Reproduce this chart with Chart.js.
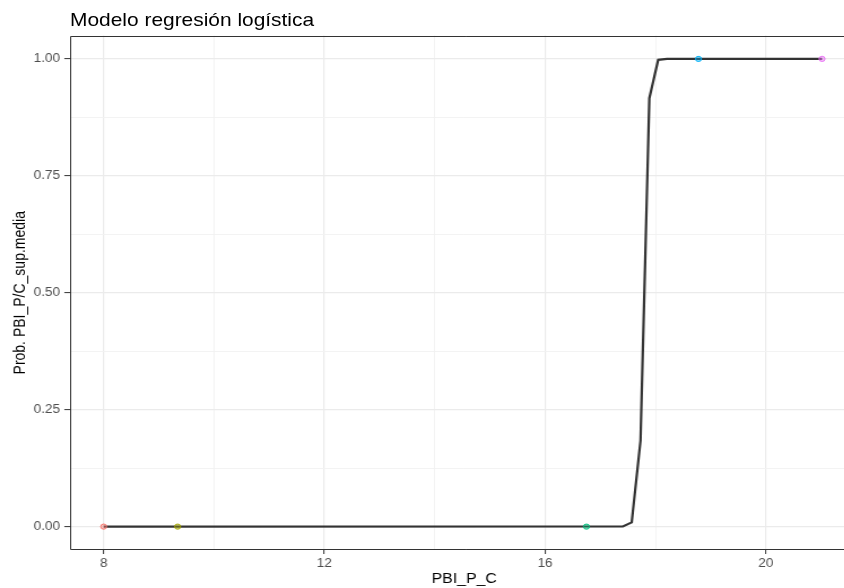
<!DOCTYPE html>
<html>
<head>
<meta charset="utf-8">
<script src="https://cdn.jsdelivr.net/npm/chart.js@4"></script>
<style>
html,body{margin:0;padding:0;background:#fff;overflow:hidden;width:844px;height:588px;}
#wrap{position:absolute;left:0;top:0;width:780px;height:588px;transform:scaleX(1.13);transform-origin:0 0;}
#title{position:absolute;left:62px;top:11px;font-family:"Liberation Sans",Arial,sans-serif;font-size:18.5px;line-height:1;color:#000;white-space:nowrap;}
canvas{position:absolute;left:0;top:0;}
</style>
</head>
<body>
<div id="wrap">
  <canvas id="c" width="780" height="588"></canvas>
  <div id="title">Modelo regresión logística</div>
</div>
<script>
// ---- data ----
const xAxisTitle = 'PBI_P_C';
const yAxisTitle = 'Prob. PBI_P/C_sup.media';
const pointX = [8.0, 9.34, 16.75, 18.78, 21.02];
const pointY = [0, 0, 0, 1, 1];
const pointColors = ['#F8766D', '#A3A500', '#00BF7D', '#00B0F6', '#E76BF3'];
const curveX = [8.0, 17.41, 17.57, 17.73, 17.89, 18.05, 18.21, 21.02];
const curveY = [0.0, 0.0003, 0.009, 0.184, 0.916, 0.998, 1.0, 1.0];
const xMajorTicks = [8, 12, 16, 20];
const xMinorTicks = [10, 14, 18];
const yMajorTicks = [0, 0.25, 0.5, 0.75, 1];
const yMinorTicks = [0.125, 0.375, 0.625, 0.875];

const FONT = '"Liberation Sans", Arial, sans-serif';

// panel border (left, top, bottom; right side lies outside the visible window)
const panelBorder = {
  id: 'panelBorder',
  afterDraw(chart) {
    const {ctx, chartArea: a} = chart;
    ctx.save();
    ctx.strokeStyle = '#333333';
    ctx.lineWidth = 1;
    const l = Math.round(a.left) + 0.5, t = Math.round(a.top) + 0.5;
    const r = a.right + 2, b = Math.round(a.bottom) - 0.5;
    ctx.beginPath();
    ctx.moveTo(r, t); ctx.lineTo(l, t); ctx.lineTo(l, b); ctx.lineTo(r, b);
    ctx.stroke();
    ctx.restore();
  }
};

const gridColor = (majors) => (c) => (c.tick && majors.includes(c.tick.value)) ? '#EBEBEB' : '#F2F2F2';
const gridWidth = (majors) => (c) => (c.tick && majors.includes(c.tick.value)) ? 1.2 : 0.9;
const tickColor = (majors) => (c) => (c.tick && majors.includes(c.tick.value)) ? '#333333' : 'rgba(0,0,0,0)';

new Chart(document.getElementById('c'), {
  type: 'scatter',
  data: {
    datasets: [
      {
        label: 'observed',
        data: pointX.map((x, i) => ({x: x, y: pointY[i]})),
        pointRadius: 2.6,
        pointBorderWidth: 1,
        pointBorderColor: pointColors,
        pointBackgroundColor: pointColors.map(c => c + '66'),
        showLine: false
      },
      {
        label: 'fit',
        data: curveX.map((x, i) => ({x: x, y: curveY[i]})),
        showLine: true,
        borderColor: '#333333',
        borderWidth: 2.2,
        pointRadius: 0,
        tension: 0,
        fill: false
      }
    ]
  },
  options: {
    responsive: false,
    animation: false,
    devicePixelRatio: 1,
    layout: {padding: {left: 0, right: 20.3, top: 35.5, bottom: 0}},
    plugins: {legend: {display: false}, tooltip: {enabled: false}, title: {display: false}},
    scales: {
      x: {
        type: 'linear', min: 7.39, max: 21.68,
        afterBuildTicks: s => { s.ticks = [...xMajorTicks, ...xMinorTicks].sort((a, b) => a - b).map(v => ({value: v})); },
        afterFit: s => { s.height = 38; },
        ticks: {
          callback: v => xMajorTicks.includes(v) ? String(v) : '',
          color: '#4D4D4D', font: {family: FONT, size: 12}, padding: 2, maxRotation: 0, autoSkip: false
        },
        grid: {color: gridColor(xMajorTicks), lineWidth: gridWidth(xMajorTicks), tickColor: tickColor(xMajorTicks), tickLength: 4, tickWidth: 1},
        border: {display: false},
        title: {display: true, text: xAxisTitle, color: '#000', font: {family: FONT, size: 14}, padding: {top: 0, bottom: 0.6}}
      },
      y: {
        type: 'linear', min: -0.05, max: 1.05,
        afterBuildTicks: s => { s.ticks = [...yMajorTicks, ...yMinorTicks].sort((a, b) => a - b).map(v => ({value: v})); },
        afterFit: s => { s.width = 61.95; },
        ticks: {
          callback: v => yMajorTicks.includes(v) ? v.toFixed(2) : '',
          color: '#4D4D4D', font: {family: FONT, size: 12}, padding: 3.8, autoSkip: false
        },
        grid: {color: gridColor(yMajorTicks), lineWidth: gridWidth(yMajorTicks), tickColor: tickColor(yMajorTicks), tickLength: 5, tickWidth: 1},
        border: {display: false},
        title: {display: true, text: yAxisTitle, color: '#000', font: {family: FONT, size: 14}, padding: {top: 10.2, bottom: 0}}
      }
    }
  },
  plugins: [panelBorder]
});
</script>
</body>
</html>
